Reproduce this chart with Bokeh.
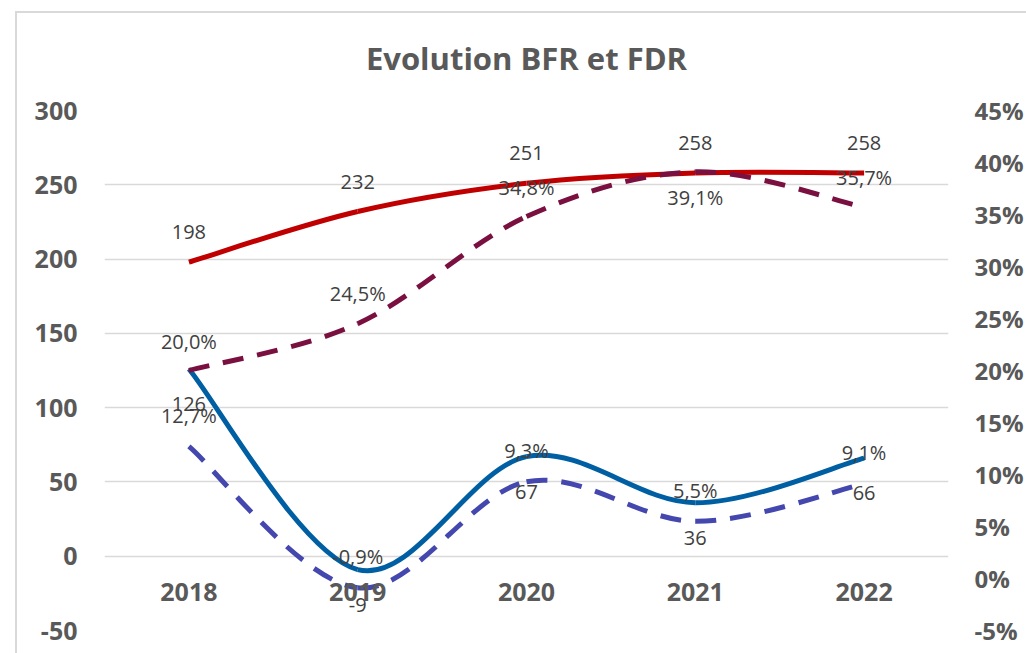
from bokeh.plotting import figure
from bokeh.models import (Range1d, LinearAxis, FixedTicker, PrintfTickFormatter,
                          ColumnDataSource, Grid, InlineStyleSheet)
from bokeh.core.properties import value
from bokeh.embed import file_html
from bokeh.resources import INLINE

# ---------------- data ----------------
years = ["2018", "2019", "2020", "2021", "2022"]
fdr = [198, 232, 251, 258, 258]            # left axis, red solid
bfr = [126, -9, 67, 36, 66]                # left axis, blue solid
fdr_pct = [20.0, 24.5, 34.8, 39.1, 35.7]   # right axis (%), maroon dashed
bfr_pct = [12.7, -0.9, 9.3, 5.5, 9.1]      # right axis (%), blue dashed
left_ticks = [-50, 0, 50, 100, 150, 200, 250, 300]
right_ticks = [-5, 0, 5, 10, 15, 20, 25, 30, 35, 40, 45]

xs = list(range(len(years)))

FONT = "Open Sans"
TICK_COLOR = "#595959"
LABEL_COLOR = "#404040"

p = figure(width=1026, height=653, output_backend="svg", toolbar_location=None,
           x_range=Range1d(-0.5, len(years) - 0.5),
           y_range=Range1d(left_ticks[0], left_ticks[-1]),
           min_border_left=104, min_border_right=73, min_border_top=110,
           min_border_bottom=23, x_axis_type=None, y_axis_type=None,
           title="Evolution BFR et FDR")
p.extra_y_ranges = {"pct": Range1d(right_ticks[0], right_ticks[-1])}
p.outline_line_color = None
p.background_fill_color = "white"
p.border_fill_color = "white"

p.title.align = "center"
p.title.text_font = FONT
p.title.text_font_size = "31px"
p.title.text_font_style = "bold"
p.title.text_color = TICK_COLOR
p.title.standoff = 64

# chart-area border (only its left and top edges are inside the picture)
p.stylesheets = [InlineStyleSheet(css=(
    ":host::before{content:'';position:absolute;left:15px;top:11px;width:1011px;height:2px;"
    "background:#d9d9d9;pointer-events:none;z-index:5;}"
    ":host::after{content:'';position:absolute;left:15px;top:11px;width:2px;height:642px;"
    "background:#d9d9d9;pointer-events:none;z-index:5;}"
))]

# left axis
yl = LinearAxis(ticker=FixedTicker(ticks=left_ticks), formatter=PrintfTickFormatter(format="%d"))
# right axis
yr = LinearAxis(y_range_name="pct", ticker=FixedTicker(ticks=right_ticks),
                formatter=PrintfTickFormatter(format="%d%%"))
# bottom axis
xb = LinearAxis(ticker=FixedTicker(ticks=xs),
                major_label_overrides={i: y for i, y in enumerate(years)})

for ax in (yl, yr, xb):
    ax.axis_line_color = None
    ax.major_tick_line_color = None
    ax.minor_tick_line_color = None
    ax.major_tick_out = 0
    ax.major_tick_in = 0
    ax.major_label_text_font = FONT
    ax.major_label_text_font_style = "bold"
    ax.major_label_text_font_size = "25px"
    ax.major_label_text_color = TICK_COLOR
yl.major_label_standoff = 27
yr.major_label_standoff = 26
yr.major_label_text_font_size = "24px"
xb.major_label_standoff = -48

p.add_layout(yl, "left")
p.add_layout(yr, "right")
p.add_layout(xb, "below")

# gridlines on left axis
g = Grid(dimension=1, ticker=FixedTicker(ticks=left_ticks),
         grid_line_color="#d9d9d9", grid_line_width=1.5)
p.add_layout(g)


def bezier_source(x, y):
    n = len(x)
    d = dict(x0=[], y0=[], x1=[], y1=[], cx0=[], cy0=[], cx1=[], cy1=[])
    for i in range(n - 1):
        a = i - 1 if i > 0 else i
        b = i + 2 if i + 2 < n else i + 1
        d["x0"].append(x[i]); d["y0"].append(y[i])
        d["x1"].append(x[i + 1]); d["y1"].append(y[i + 1])
        d["cx0"].append(x[i] + (x[i + 1] - x[a]) / 6.0)
        d["cy0"].append(y[i] + (y[i + 1] - y[a]) / 6.0)
        d["cx1"].append(x[i + 1] - (x[b] - x[i]) / 6.0)
        d["cy1"].append(y[i + 1] - (y[b] - y[i]) / 6.0)
    return ColumnDataSource(d)


def curve(y, color, dash="solid", rng="default"):
    src = bezier_source(xs, y)
    p.bezier(x0="x0", y0="y0", x1="x1", y1="y1", cx0="cx0", cy0="cy0",
             cx1="cx1", cy1="cy1", source=src, line_color=color, line_width=5,
             line_dash=dash, y_range_name=rng)


RED = "#C00000"
BLUE = "#005FA3"
MAROON = "#7A1040"
BLUE2 = "#4448AE"

curve(fdr, RED)
curve(bfr, BLUE)
curve(fdr_pct, MAROON, "21 14", "pct")
curve(bfr_pct, BLUE2, "21 14", "pct")


def labels(y, texts, offsets, rng="default"):
    src = ColumnDataSource(dict(x=xs, y=y, t=texts, off=offsets))
    p.text(x="x", y="y", text="t", y_offset="off", source=src,
           text_align="center", text_baseline="middle",
           text_font=value(FONT), text_font_size="20px",
           text_color=LABEL_COLOR, y_range_name=rng)


def pct_text(v):
    return f"{v:.1f}%".replace(".", ",")


labels(fdr, [str(v) for v in fdr], [-30] * 5)
labels(bfr, [str(v) for v in bfr], [35] * 5)
labels(fdr_pct, [pct_text(v) for v in fdr_pct], [-29, -30, -29, 26, -30], "pct")
labels(bfr_pct, [pct_text(v) for v in bfr_pct], [-31] * 5, "pct")

open("out.html", "w").write(file_html(p, INLINE))
